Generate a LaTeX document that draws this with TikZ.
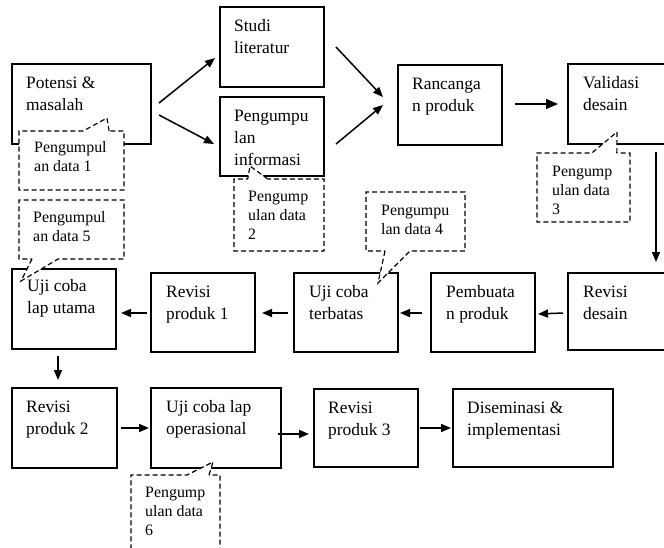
\documentclass[tikz,border=0pt]{standalone}
\usepackage{fontspec}
\setmainfont{Liberation Serif}
\usetikzlibrary{arrows.meta,shapes.callouts}

\newcommand{\stagefont}{\fontsize{17.4}{22}\selectfont}
\newcommand{\notefont}{\fontsize{15.9}{19}\selectfont}

\tikzset{
  stagebox/.style={draw, line width=1.3pt, inner sep=0pt, outer sep=0pt, anchor=north west},
  notebox/.style={rectangle callout, draw, fill=white, line width=1.15pt,
    dash pattern=on 5pt off 3pt, inner sep=0pt, outer sep=0pt, anchor=north west},
  stagetext/.style={anchor=north west, inner sep=0pt, align=left, font=\stagefont},
  notetext/.style={anchor=north west, inner sep=0pt, align=left, font=\notefont},
  flow/.style={line width=1.5pt, -{Triangle[length=10pt,width=8pt]}},
  bigflow/.style={line width=1.6pt, -{Triangle[length=12pt,width=10pt]}},
}

\begin{document}
\begin{tikzpicture}[x=1pt, y=-1pt]
\useasboundingbox[fill=white] (0,0) rectangle (664,547);

% ---- stages ----
\node[stagebox, minimum width=139pt, minimum height=80pt] (potensi)   at (12,64)  {};
\node[stagebox, minimum width=104pt, minimum height=80pt] (studi)     at (220,7)  {};
\node[stagebox, minimum width=104pt, minimum height=79pt] (info)      at (220,97) {};
\node[stagebox, minimum width=104pt, minimum height=80pt] (rancangan) at (398,65) {};
\node[stagebox, minimum width=110pt, minimum height=80pt] (validasi)  at (568,64) {};
\node[stagebox, minimum width=110pt, minimum height=77pt] (revdesain) at (568,273) {};
\node[stagebox, minimum width=104pt, minimum height=79pt] (pembuatan) at (431,273) {};
\node[stagebox, minimum width=104pt, minimum height=79pt] (terbatas)  at (294,273) {};
\node[stagebox, minimum width=104pt, minimum height=79pt] (revisi1)   at (151,273) {};
\node[stagebox, minimum width=104pt, minimum height=80pt] (utama)     at (12,269) {};
\node[stagebox, minimum width=105pt, minimum height=80pt] (revisi2)   at (12,388) {};
\node[stagebox, minimum width=130pt, minimum height=80pt] (ujiop)     at (151,388) {};
\node[stagebox, minimum width=104pt, minimum height=78pt] (revisi3)   at (314,389) {};
\node[stagebox, minimum width=160pt, minimum height=78pt] (disem)     at (453,389) {};

% ---- flow ----
\draw[flow] ([shift={(8,-1)}]potensi.east) -- ([shift={(-5,11)}]studi.west);
\draw[flow] ([shift={(8,11)}]potensi.east) -- ([shift={(-6,7.5)}]info.west);
\draw[flow] ([shift={(12,0)}]studi.east) -- ([shift={(-15,-8)}]rancangan.west);
\draw[flow] ([shift={(12,7.5)}]info.east) -- ([shift={(-15,0)}]rancangan.west);
\draw[bigflow] ([shift={(13,-1)}]rancangan.east) -- ([shift={(-10,0)}]validasi.west);
\draw[flow] ([shift={(88,8)}]validasi.south west) -- ([shift={(88,-11)}]revdesain.north west);
\draw[flow] ([shift={(-5,1.5)}]revdesain.west) -- ([shift={(3,1.5)}]pembuatan.east);
\draw[flow] ([shift={(-9,0.5)}]pembuatan.west) -- ([shift={(2,0.5)}]terbatas.east);
\draw[flow] ([shift={(-6,0.5)}]terbatas.west) -- ([shift={(7,0.5)}]revisi1.east);
\draw[flow] ([shift={(-4,0.5)}]revisi1.west) -- ([shift={(5,4)}]utama.east);
\draw[flow] ([shift={(-6,7)}]utama.south) -- ([shift={(-6.5,-8)}]revisi2.north);
\draw[flow] ([shift={(4,0)}]revisi2.east) -- ([shift={(-2,0)}]ujiop.west);
\draw[flow] ([shift={(-3,6)}]ujiop.east) -- ([shift={(-5,6)}]revisi3.west);
\draw[flow] ([shift={(2,0)}]revisi3.east) -- ([shift={(-2,0)}]disem.west);

% ---- data collection notes ----
\node[notebox, minimum width=105pt, minimum height=59pt,
  callout absolute pointer={(107,118)}, callout pointer width=26pt] (n1) at (19,131) {};
\node[notebox, minimum width=90pt, minimum height=72pt,
  callout absolute pointer={(250,166)}, callout pointer width=20pt] (n2) at (234,179) {};
\node[notebox, minimum width=93pt, minimum height=69pt,
  callout absolute pointer={(617,132)}, callout pointer width=25pt] (n3) at (537,153) {};
\node[notebox, minimum width=99pt, minimum height=59pt,
  callout absolute pointer={(378,283)}, callout pointer width=25pt] (n4) at (366,192) {};
\node[notebox, minimum width=105pt, minimum height=59pt,
  callout absolute pointer={(21,281)}, callout pointer width=26pt] (n5) at (19,200) {};
\node[notebox, minimum width=89pt, minimum height=85pt,
  callout absolute pointer={(213,462)}, callout pointer width=22pt] (n6) at (131,475) {};

\node[notetext] (n1-t) at ([shift={(15,7.7)}]n1.north west) {\strut Pengumpul\\an data 1};
\node[notetext] (n2-t) at ([shift={(14,8.7)}]n2.north west) {\strut Pengump\\ulan data\\2};
\node[notetext] (n3-t) at ([shift={(15,9.7)}]n3.north west) {\strut Pengump\\ulan data\\3};
\node[notetext] (n4-t) at ([shift={(15,9.7)}]n4.north west) {\strut Pengumpu\\lan data 4};
\node[notetext] (n5-t) at ([shift={(14,8.7)}]n5.north west) {\strut Pengumpul\\an data 5};
\node[notetext] (n6-t) at ([shift={(14,8.7)}]n6.north west) {\strut Pengump\\ulan data\\6};

% ---- stage labels ----
\node[stagetext] (potensi-t)   at ([shift={(14,8.6)}]potensi.north west)   {\strut Potensi \&\\masalah};
\node[stagetext] (studi-t)     at ([shift={(14,8.6)}]studi.north west)     {\strut Studi\\literatur};
\node[stagetext] (info-t)      at ([shift={(14,8.6)}]info.north west)      {\strut Pengumpu\\lan\\informasi};
\node[stagetext] (rancangan-t) at ([shift={(14,8.6)}]rancangan.north west) {\strut Rancanga\\n produk};
\node[stagetext] (validasi-t)  at ([shift={(15,8.6)}]validasi.north west)  {\strut Validasi\\desain};
\node[stagetext] (revdesain-t) at ([shift={(15,8.6)}]revdesain.north west) {\strut Revisi\\desain};
\node[stagetext] (pembuatan-t) at ([shift={(15,8.6)}]pembuatan.north west) {\strut Pembuata\\n produk};
\node[stagetext] (terbatas-t)  at ([shift={(15,8.6)}]terbatas.north west)  {\strut Uji coba\\terbatas};
\node[stagetext] (revisi1-t)   at ([shift={(15,8.6)}]revisi1.north west)   {\strut Revisi\\produk 1};
\node[stagetext] (utama-t)     at ([shift={(15,6.6)}]utama.north west)     {\strut Uji coba\\lap utama};
\node[stagetext] (revisi2-t)   at ([shift={(14,8.6)}]revisi2.north west)   {\strut Revisi\\produk 2};
\node[stagetext] (ujiop-t)     at ([shift={(15,8.6)}]ujiop.north west)     {\strut Uji coba lap\\operasional};
\node[stagetext] (revisi3-t)   at ([shift={(14,8.6)}]revisi3.north west)   {\strut Revisi\\produk 3};
\node[stagetext] (disem-t)     at ([shift={(14,8.6)}]disem.north west)     {\strut Diseminasi \&\\implementasi};
\end{tikzpicture}
\end{document}
